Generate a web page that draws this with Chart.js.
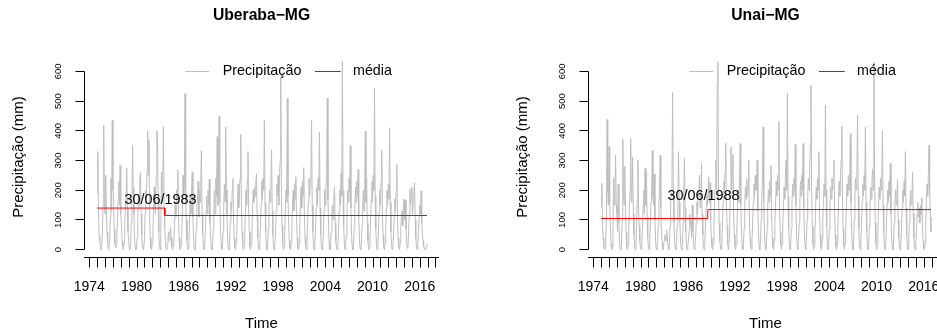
<!DOCTYPE html>
<html>
<head>
<meta charset="utf-8">
<script src="https://cdn.jsdelivr.net/npm/chart.js@4.4.1/dist/chart.umd.min.js"></script>
<style>
  html, body { margin: 0; padding: 0; background: #fff; overflow: hidden; }
  #wrap { position: relative; width: 937px; height: 333px; overflow: hidden; }
  .panel { position: absolute; top: 0; width: 470px; height: 333px; }
</style>
</head>
<body>
<div id="wrap">
  <div class="panel" style="left:0"><canvas id="uberaba" width="470" height="333"></canvas></div>
  <div class="panel" style="left:504px"><canvas id="unai" width="470" height="333"></canvas></div>
</div>
<script>
// monthly series, Jan 1975 .. Dec 2016 (one row per year)
const startYear = 1975

const uberaba = [
  190,330,120,45,30,5,0,10,60,150,418,160,
  120,250,140,60,20,0,5,30,110,240,130,435,
  200,180,70,20,5,15,40,100,170,230,150,285,
  120,90,30,10,0,25,80,130,200,275,140,60,
  30,5,0,20,90,180,350,210,120,40,10,0,
  5,40,110,180,150,230,260,120,50,15,0,10,
  30,120,200,170,260,400,250,370,110,40,5,0,
  20,60,140,210,150,120,250,400,390,180,60,10,
  0,50,260,160,200,415,140,80,30,5,0,20,
  40,60,30,50,75,40,10,0,10,35,80,150,
  110,200,170,268,120,40,5,0,15,60,130,250,
  180,220,525,150,100,30,0,5,40,100,180,120,
  200,262,110,40,5,0,20,70,150,160,230,110,
  200,160,230,334,120,50,10,0,15,60,130,180,
  120,200,150,237,90,40,10,0,20,70,150,200,
  120,240,180,380,150,260,448,160,80,20,0,10,
  60,140,220,160,413,200,120,40,5,0,30,90,
  160,130,200,240,100,40,10,0,25,70,150,220,
  140,200,240,388,150,60,15,0,10,50,120,200,
  150,240,330,140,60,10,0,20,70,130,200,160,
  210,180,230,255,110,40,5,0,20,80,150,230,
  170,240,200,435,160,60,10,0,15,70,140,200,
  160,240,336,130,50,10,0,20,60,130,220,180,
  250,150,240,300,580,200,80,20,0,10,60,130,
  200,160,509,180,90,30,5,0,30,80,150,200,
  130,220,170,245,110,40,5,0,20,80,160,210,
  140,230,180,276,120,40,10,0,30,90,160,240,
  180,210,260,434,150,60,10,0,20,70,140,210,
  150,240,200,396,140,50,10,0,10,60,130,200,
  150,210,250,510,170,70,15,0,20,60,120,150,
  100,170,210,90,30,5,0,15,60,130,200,150,
  258,180,635,200,80,20,0,10,50,120,200,160,
  240,190,350,140,50,10,0,20,70,140,210,160,
  230,180,270,110,40,5,0,20,80,150,200,130,
  190,398,160,240,90,30,0,5,40,100,170,230,
  160,250,200,543,180,70,15,0,10,60,130,200,
  150,230,335,130,50,10,0,20,70,140,200,150,
  220,170,410,160,60,15,0,10,50,110,170,130,
  200,288,110,40,10,0,20,60,110,130,80,140,
  170,100,165,70,20,5,10,60,120,205,150,180,
  210,120,160,190,225,100,40,10,0,20,60,110,
  150,120,198,90,50,30,10,5,0,5,10,20
]

const unai = [
  145,223,90,40,10,0,5,30,120,438,200,150,
  347,160,80,20,0,10,60,240,150,200,318,150,
  120,60,220,90,30,5,0,20,100,371,180,150,
  280,130,60,10,0,15,60,150,200,374,160,200,
  312,120,50,10,0,20,80,170,302,140,80,30,
  5,0,20,70,150,200,120,274,150,265,110,40,
  10,0,30,90,160,200,333,180,150,255,100,30,
  5,0,20,80,150,200,318,140,60,20,0,10,
  30,50,40,30,65,30,10,0,20,80,150,200,
  240,528,180,90,30,5,0,20,80,150,330,160,
  100,30,5,0,20,90,180,308,140,60,20,0,
  10,30,60,120,80,100,40,150,60,20,0,10,
  40,90,160,120,180,200,250,140,160,290,120,50,
  10,0,20,70,140,200,150,180,245,160,225,100,
  40,10,0,20,80,160,220,300,200,554,632,200,
  90,30,5,0,20,80,160,230,200,260,358,150,
  80,20,0,30,100,180,345,200,240,320,130,50,
  10,0,20,80,150,200,160,230,357,150,60,15,
  0,20,70,150,210,170,240,180,200,301,120,40,
  10,0,30,90,160,220,180,250,200,230,301,130,
  50,10,0,30,100,180,230,413,160,60,15,0,
  20,70,140,200,160,230,180,283,120,40,10,0,
  30,90,160,230,180,250,200,430,160,60,15,0,
  20,80,150,210,170,240,300,200,526,180,70,15,
  0,20,70,150,220,180,240,200,354,150,50,10,
  0,30,90,160,230,180,250,200,357,140,50,10,
  0,30,100,180,240,200,280,350,553,200,80,20,
  0,10,60,140,210,170,240,200,330,140,50,10,
  0,30,90,170,220,180,486,200,80,20,0,20,
  70,150,210,170,240,200,250,301,130,50,10,0,
  20,80,160,230,180,250,300,416,180,70,15,0,
  20,70,150,220,180,250,200,240,390,160,60,15,
  0,30,100,180,240,200,280,452,180,70,15,0,
  20,80,160,220,180,250,200,413,160,60,15,0,
  20,80,150,210,170,230,272,200,631,250,90,20,
  0,10,60,140,210,170,240,200,250,400,150,60,
  15,0,20,80,150,200,160,230,180,290,120,40,
  10,0,30,90,160,200,150,180,235,100,40,10,
  0,20,70,140,200,160,230,180,330,140,50,10,
  0,30,90,160,200,150,180,260,120,40,10,0,
  20,60,120,160,110,140,90,150,120,175,80,30,
  5,0,20,80,160,220,180,250,351,200,110,60
]

// mean before / after the change point
const uberabaMeans = [140, 115]
const unaiMeans = [105, 135]
const uberabaBreak = 1983.6
const unaiBreak = 1988.55
const seriesEnd = 2016.92

const xTickYears = [1974,1975,1976,1977,1978,1979,1980,1981,1982,1983,1984,1985,1986,1987,1988,
  1989,1990,1991,1992,1993,1994,1995,1996,1997,1998,1999,2000,2001,2002,2003,2004,2005,2006,
  2007,2008,2009,2010,2011,2012,2013,2014,2015,2016,2017,2018]
const xLabelYears = [1974, 1980, 1986, 1992, 1998, 2004, 2010, 2016]
const yTicks = [0, 100, 200, 300, 400, 500, 600]

const FONT = '"Liberation Sans", Arial, Helvetica, sans-serif'

const rAxes = {
  id: 'rAxes',
  afterDraw(chart, args, opts) {
    const { ctx, chartArea: a, scales: { x, y } } = chart
    ctx.save()
    ctx.strokeStyle = '#000'
    ctx.fillStyle = '#000'
    ctx.lineWidth = 1

    // y axis
    const ax = Math.round(a.left) + 0.5
    ctx.beginPath()
    ctx.moveTo(ax, Math.floor(y.getPixelForValue(yTicks[0])) + 0.5)
    ctx.lineTo(ax, Math.floor(y.getPixelForValue(yTicks[yTicks.length - 1])) + 0.5)
    yTicks.forEach(v => {
      const py = Math.floor(y.getPixelForValue(v)) + 0.5
      ctx.moveTo(ax, py)
      ctx.lineTo(ax - 9, py)
    })
    ctx.stroke()
    ctx.font = '9.5px ' + FONT
    ctx.textAlign = 'center'
    ctx.textBaseline = 'middle'
    yTicks.forEach(v => {
      ctx.save()
      ctx.translate(a.left - 26, y.getPixelForValue(v))
      ctx.rotate(-Math.PI / 2)
      ctx.fillText(String(v), 0, 0)
      ctx.restore()
    })

    // x axis (line above, ticks hanging down)
    const ay = Math.floor(a.bottom) + 0.5
    ctx.beginPath()
    ctx.moveTo(a.left, ay)
    ctx.lineTo(a.right, ay)
    xTickYears.forEach(t => {
      const px = Math.round(x.getPixelForValue(t)) + 0.5
      ctx.moveTo(px, ay)
      ctx.lineTo(px, ay + 10)
    })
    ctx.stroke()
    ctx.font = '14px ' + FONT
    xLabelYears.forEach(t => ctx.fillText(String(t), x.getPixelForValue(t), 287.5))

    const cx = (a.left + a.right) / 2
    ctx.font = '15px ' + FONT
    ctx.fillText('Time', cx, 324)

    ctx.save()
    ctx.translate(18.5, 157)
    ctx.rotate(-Math.PI / 2)
    ctx.fillText('Precipitação (mm)', 0, 0)
    ctx.restore()

    ctx.font = 'bold 15.7px ' + FONT
    ctx.fillText(opts.title, cx, 16)

    // legend
    const ly = 71.5
    ctx.font = '14.3px ' + FONT
    ctx.textAlign = 'left'
    ctx.strokeStyle = '#BEBEBE'
    ctx.beginPath(); ctx.moveTo(a.left + 101, ly); ctx.lineTo(a.left + 125, ly); ctx.stroke()
    ctx.fillText('Precipitação', a.left + 138.7, ly)
    ctx.strokeStyle = '#FF0000'
    ctx.beginPath(); ctx.moveTo(a.left + 231, ly); ctx.lineTo(a.left + 256.7, ly); ctx.stroke()
    ctx.fillText('média', a.left + 269, ly)

    // change point label
    ctx.textAlign = 'center'
    ctx.font = '14.4px ' + FONT
    ctx.fillText(opts.label, x.getPixelForValue(opts.labelAt[0]), y.getPixelForValue(opts.labelAt[1]))
    ctx.restore()
  }
}

function makeChart(id, values, means, brk, title, label, labelAt) {
  const points = values.map((v, i) => ({ x: startYear + i / 12, y: v }))
  const meanLine = [
    { x: startYear, y: means[0] }, { x: brk, y: means[0] },
    { x: brk, y: means[1] }, { x: seriesEnd, y: means[1] }
  ]
  return new Chart(document.getElementById(id), {
    type: 'line',
    data: {
      datasets: [
        { label: 'média', data: meanLine, borderColor: '#FF0000', borderWidth: 1, pointRadius: 0, tension: 0 },
        { label: 'Precipitação', data: points, borderColor: '#BEBEBE', borderWidth: 1, pointRadius: 0, tension: 0 }
      ]
    },
    options: {
      responsive: false,
      animation: false,
      events: [],
      layout: { padding: { left: 84, right: 31, top: 50, bottom: 75.7 } },
      scales: {
        x: { type: 'linear', min: 1973.326, max: 2018.446, display: false },
        y: { type: 'linear', min: -25.56, max: 671.7, display: false }
      },
      plugins: {
        legend: { display: false },
        tooltip: { enabled: false },
        rAxes: { title, label, labelAt }
      }
    },
    plugins: [rAxes]
  })
}

makeChart('uberaba', uberaba, uberabaMeans, uberabaBreak, 'Uberaba\u2212MG', '30/06/1983', [1983.06, 167])
makeChart('unai', unai, unaiMeans, unaiBreak, 'Unai\u2212MG', '30/06/1988', [1988.0, 182])
</script>
</body>
</html>
